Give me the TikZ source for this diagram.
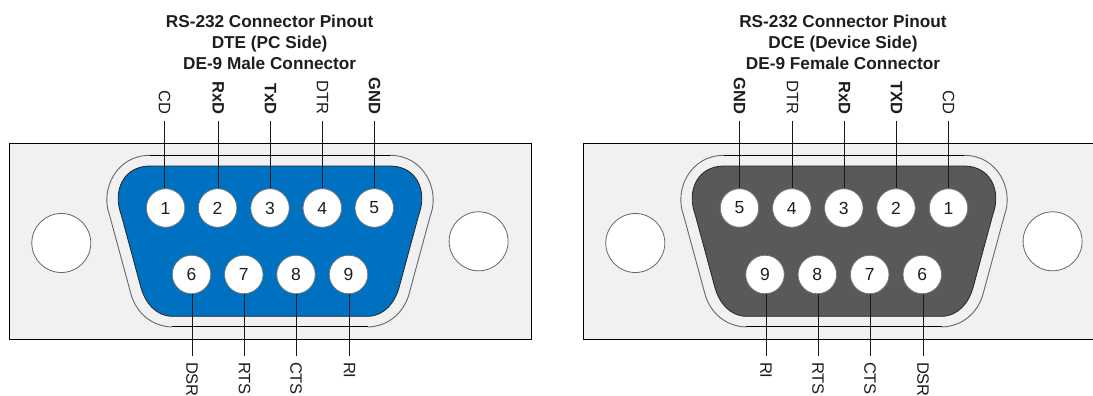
\documentclass[tikz,border=0pt]{standalone}
\usepackage{fontspec}
\setmainfont{Liberation Sans}
\definecolor{panelc}{HTML}{F1F1F1}
\definecolor{bluec}{HTML}{0070C0}
\definecolor{greyc}{HTML}{595959}
\definecolor{inkc}{HTML}{1E1E1E}
\tikzset{
  panelbox/.style={draw=black,fill=panelc,line width=0.9pt},
  hole/.style={circle,draw=black!60,fill=white,line width=0.8pt,minimum size=59pt,inner sep=0},
  shellcurve/.style={draw=black!60,line width=0.9pt},
  shellflat/.style={draw=black,line width=0.9pt},
  shellin/.style={draw=black!85,line width=0.8pt},
  pin/.style={circle,draw=black!55,fill=white,line width=0.7pt,minimum size=38.5pt,inner sep=0,font=\fontsize{17.5}{18}\selectfont,text=inkc},
  sig/.style={rotate=-90,inner sep=0,outer sep=6pt,font=\fontsize{16.5}{17}\selectfont,text=inkc},
  sigb/.style={sig,font=\fontsize{16.5}{17}\selectfont\bfseries},
  wire/.style={draw=black!90,line width=0.85pt},
  heading/.style={align=center,font=\fontsize{17.2}{21}\selectfont\bfseries,text=inkc,inner sep=0}
}
\begin{document}
\begin{tikzpicture}[x=1pt,y=-1pt]
\useasboundingbox (0,0) rectangle (1093,396);
\clip (0,0) rectangle (1093,396);
\fill[white] (0,0) rectangle (1093,396);
% ---------- left connector
\node[heading] (ltitle) at (269.6,42.5) {RS-232 Connector Pinout\\DTE (PC Side)\\DE-9 Male Connector};
\draw[panelbox] (9.3,143.5) rectangle (531.5,339.5);
\node[hole] (lh1) at (61.3,243) {};
\node[hole] (lh2) at (478.6,241.3) {};
\draw[shellcurve] (172,327) .. controls (150,326) and (137,312) .. (131.5,296) -- (109.5,215) .. controls (100,190) and (116,155.3) .. (150,155.3);
\draw[shellcurve] (390,155.3) .. controls (424,155.3) and (440,190) .. (430.5,215) -- (408.5,296) .. controls (403,312) and (390,326) .. (368,327);
\draw[shellflat] (150,155.3) -- (390,155.3) (172,326.7) -- (368,326.7);
\draw[shellin,fill=bluec] (172,316.3) .. controls (156,316) and (145,303) .. (140.7,286.7) -- (121.3,215) .. controls (112,190) and (124,166) .. (150,166) -- (390,166) .. controls (416,166) and (428,190) .. (418.7,215) -- (399.3,286.7) .. controls (395,303) and (384,316) .. (368,316.3) -- cycle;
\foreach \n/\x in {1/165.6,2/217.6,3/270,4/322.3,5/374.3}{\node[pin] (lp\n) at (\x,208) {\n};}
\foreach \n/\x in {6/191.5,7/243.8,8/296,9/348.5}{\node[pin] (lp\n) at (\x,274.5) {\n};}
\node[sig,anchor=east]  (lcd)  at (164.6,120.5) {CD};
\node[sigb,anchor=east] (lrx)  at (218.3,120.5) {RxD};
\node[sigb,anchor=east] (ltx)  at (270.5,120.5) {TxD};
\node[sig,anchor=east]  (ldtr) at (322.6,120.5) {DTR};
\node[sigb,anchor=east] (lgnd) at (374.6,120.5) {GND};
\node[sig,anchor=west]  (ldsr) at (192,356) {DSR};
\node[sig,anchor=west]  (lrts) at (244.5,356) {RTS};
\node[sig,anchor=west]  (lcts) at (296,356) {CTS};
\node[sig,anchor=west]  (lri)  at (349.5,356) {RI};
\foreach \a/\b in {lcd/lp1,lrx/lp2,ltx/lp3,ldtr/lp4,lgnd/lp5}{\draw[wire] (\a.east) -- (\a.east |- \b.north);}
\foreach \a/\b in {ldsr/lp6,lrts/lp7,lcts/lp8,lri/lp9}{\draw[wire] (\a.west) -- (\a.west |- \b.south);}
% ---------- right connector
\begin{scope}[shift={(574,0)}]
\node[heading] (rtitle) at (269,42.5) {RS-232 Connector Pinout\\DCE (Device Side)\\DE-9 Female Connector};
\draw[panelbox] (9.3,143.5) rectangle (560,339.5);
\node[hole] (rh1) at (61.3,243) {};
\node[hole] (rh2) at (478.6,241.3) {};
\draw[shellcurve] (172,327) .. controls (150,326) and (137,312) .. (131.5,296) -- (109.5,215) .. controls (100,190) and (116,155.3) .. (150,155.3);
\draw[shellcurve] (390,155.3) .. controls (424,155.3) and (440,190) .. (430.5,215) -- (408.5,296) .. controls (403,312) and (390,326) .. (368,327);
\draw[shellflat] (150,155.3) -- (390,155.3) (172,326.7) -- (368,326.7);
\draw[shellin,fill=greyc] (172,316.3) .. controls (156,316) and (145,303) .. (140.7,286.7) -- (121.3,215) .. controls (112,190) and (124,166) .. (150,166) -- (390,166) .. controls (416,166) and (428,190) .. (418.7,215) -- (399.3,286.7) .. controls (395,303) and (384,316) .. (368,316.3) -- cycle;
\foreach \n/\x in {5/165.5,4/217.8,3/269.8,2/322,1/374.5}{\node[pin] (rp\n) at (\x,208) {\n};}
\foreach \n/\x in {9/191,8/243.3,7/295.7,6/348.3}{\node[pin] (rp\n) at (\x,274.5) {\n};}
\node[sigb,anchor=east] (rgnd) at (165.5,120.5) {GND};
\node[sig,anchor=east]  (rdtr) at (218.5,120.5) {DTR};
\node[sigb,anchor=east] (rrx)  at (270.5,120.5) {RxD};
\node[sigb,anchor=east] (rtx)  at (322.5,120.5) {TXD};
\node[sig,anchor=east]  (rcd)  at (374.5,120.5) {CD};
\node[sig,anchor=west]  (rri)  at (192,356) {RI};
\node[sig,anchor=west]  (rrts) at (244,356) {RTS};
\node[sig,anchor=west]  (rcts) at (296,356) {CTS};
\node[sig,anchor=west]  (rdsr) at (349,356) {DSR};
\foreach \a/\b in {rgnd/rp5,rdtr/rp4,rrx/rp3,rtx/rp2,rcd/rp1}{\draw[wire] (\a.east) -- (\a.east |- \b.north);}
\foreach \a/\b in {rri/rp9,rrts/rp8,rcts/rp7,rdsr/rp6}{\draw[wire] (\a.west) -- (\a.west |- \b.south);}
\end{scope}
\end{tikzpicture}
\end{document}
